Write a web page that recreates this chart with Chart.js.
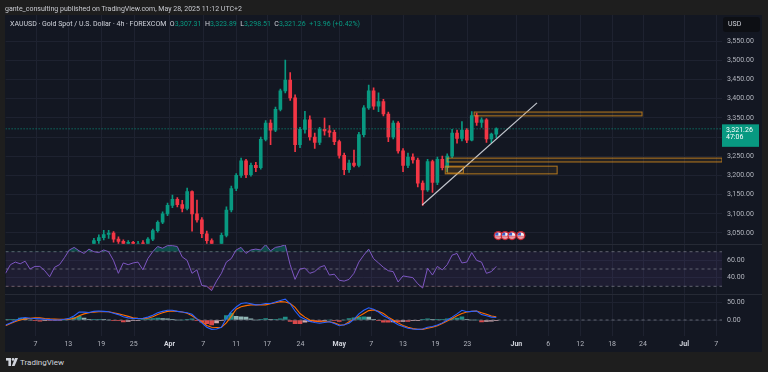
<!DOCTYPE html>
<html>
<head>
<meta charset="utf-8">
<script src="https://cdn.jsdelivr.net/npm/chart.js@4.4.1/dist/chart.umd.min.js"></script>
<style>
  html, body { margin: 0; padding: 0; }
  body { width: 768px; height: 372px; background: #1e1e1e; position: relative; overflow: hidden;
         font-family: Roboto, "Liberation Sans", sans-serif; }
  #panel { position: absolute; left: 5px; top: 15px; width: 757px; height: 337px; background: #131722; }
  canvas { position: absolute; left: 5px; }
  #cPrice { top: 9px; z-index: 1; }
  #cRsi { top: 240px; z-index: 2; }
  #cMacd { top: 290px; z-index: 3; }
  .sep { position: absolute; left: 5px; width: 757px; height: 1px; background: #262a35; z-index: 4; }
  #header { position: absolute; left: 5px; top: 4px; font-size: 7px; line-height: 10px; color: #c9cbd1; z-index: 5; white-space: nowrap; }
  #legend { position: absolute; left: 10px; top: 19px; font-size: 7px; line-height: 10px; color: #d1d4dc; z-index: 5; white-space: nowrap; }
  #legend .v { color: #089981; }
  #usd { position: absolute; left: 723px; top: 17px; width: 37px; height: 15px; box-sizing: border-box; padding-left: 5px;
         background: #0d0f14; border-radius: 3px; font-size: 7px; line-height: 15px; color: #d1d4dc; z-index: 5; }
  #brand { position: absolute; left: 6px; top: 357px; font-size: 8px; line-height: 11px; color: #d1d4dc; z-index: 5; white-space: nowrap; }
  #brand svg { vertical-align: -1px; margin-right: 2px; }
</style>
</head>
<body>
<div id="panel"></div>
<div id="header">gante_consulting published on TradingView.com, May 28, 2025 11:12 UTC+2</div>
<div id="legend">XAUUSD · Gold Spot / U.S. Dollar · 4h · FOREXCOM&nbsp;&nbsp;O<span class="v">3,307.31</span>&nbsp; H<span class="v">3,323.89</span>&nbsp; L<span class="v">3,298.51</span>&nbsp; C<span class="v">3,321.26</span>&nbsp; <span class="v">+13.96 (+0.42%)</span></div>
<div id="usd">USD</div>
<canvas id="cPrice" width="757" height="239"></canvas>
<canvas id="cRsi" width="757" height="58"></canvas>
<canvas id="cMacd" width="757" height="62"></canvas>
<div class="sep" style="top:244px"></div>
<div class="sep" style="top:294px"></div>
<div id="brand"><svg width="12" height="8" viewBox="0 0 12 8"><rect x="0" y="0" width="5" height="2.6" fill="#d1d4dc"/><rect x="2.4" y="0" width="2.6" height="8" fill="#d1d4dc"/><circle cx="7" cy="1.4" r="1.3" fill="#d1d4dc"/><polygon points="9,0 12,0 8.6,8 5.8,8" fill="#d1d4dc"/></svg>TradingView</div>
<script>
// x axis in bar-index units
const xMin = 0, xMax = 146;
const tickPos = [6.1, 12.8, 19.5, 26.1, 33.4, 40.3, 47.0, 53.3, 60.1, 68.0, 74.5, 81.0, 87.6, 94.1, 104.1, 110.6, 117.1, 123.6, 129.9, 138.3, 144.8];
const tickLabels = ['7', '13', '19', '25', 'Apr', '7', '11', '17', '24', 'May', '7', '13', '19', '23', 'Jun', '6', '12', '18', '24', 'Jul', '7'];
const monthLabels = ['Apr', 'May', 'Jun', 'Jul'];

// candles
const opens = [
  2898,2905,2918,2912,2925,2914,2908,2912,2902,2895,
  2910,2920,2935,2948,2982,2988,2978,2995,3002,3030,
  3038,3046,3050,3034,3028,3015,3026,3012,3022,3020,
  3034,3056,3078,3100,3122,3138,3124,3114,3158,3100,
  3084,3048,3030,2985,2975,3044,3110,3166,3200,3238,
  3202,3226,3220,3294,3336,3318,3372,3420,3448,3402,
  3280,3320,3345,3300,3286,3320,3316,3312,3288,3252,
  3215,3232,3226,3306,3376,3420,3380,3392,3360,3300,
  3336,3264,3226,3248,3240,3180,3162,3236,3182,3242,
  3220,3250,3310,3296,3318,3292,3356,3338,3345,3295,
  3307.31];
const highs = [
  2912,2925,2928,2932,2930,2920,2922,2918,2910,2915,
  2928,2940,2955,2988,2995,2992,3000,3008,3036,3045,
  3057,3057,3054,3040,3032,3030,3028,3028,3030,3038,
  3060,3082,3105,3128,3149,3142,3135,3167,3160,3136,
  3090,3055,3035,2995,3050,3118,3172,3205,3245,3242,
  3232,3234,3300,3343,3345,3378,3425,3500,3468,3410,
  3325,3367,3355,3310,3325,3349,3330,3318,3292,3258,
  3240,3266,3312,3382,3435,3428,3415,3398,3365,3342,
  3340,3270,3258,3256,3245,3186,3242,3240,3248,3250,
  3256,3320,3318,3340,3322,3366,3362,3350,3348,3310,
  3323.89];
const lows = [
  2890,2900,2905,2908,2906,2896,2900,2888,2882,2890,
  2904,2915,2930,2945,2975,2970,2974,2985,2998,3022,
  3032,3036,3026,3018,3008,3010,3005,3008,3014,3016,
  3030,3052,3074,3095,3116,3118,3105,3110,3055,3078,
  3038,3022,2970,2957,2970,3040,3105,3160,3195,3194,
  3198,3210,3216,3290,3280,3314,3368,3415,3395,3262,
  3272,3310,3292,3270,3280,3305,3300,3280,3245,3202,
  3208,3222,3222,3300,3372,3372,3366,3355,3288,3295,
  3258,3210,3220,3232,3170,3122,3158,3156,3176,3214,
  3210,3246,3284,3290,3285,3290,3330,3325,3286,3285,
  3298.51];
const closes = [
  2905,2918,2912,2925,2914,2908,2912,2902,2895,2910,
  2920,2935,2948,2982,2988,2978,2995,3002,3030,3038,
  3046,3050,3034,3028,3015,3026,3012,3022,3020,3034,
  3056,3078,3100,3122,3138,3124,3114,3158,3100,3084,
  3048,3030,2985,2975,3044,3110,3166,3200,3238,3202,
  3226,3220,3294,3336,3318,3372,3420,3448,3402,3280,
  3320,3345,3300,3286,3320,3316,3312,3288,3252,3215,
  3232,3226,3306,3376,3420,3380,3392,3360,3300,3336,
  3264,3226,3248,3240,3180,3162,3236,3182,3242,3220,
  3250,3310,3296,3318,3292,3356,3338,3345,3295,3307.31,
  3321.26];
const priceTicks = [3050, 3100, 3150, 3200, 3250, 3300, 3350, 3400, 3450, 3500, 3550];
const countdown = '47:06';

// RSI (14)
const rsi = [
  45,55,58,56,59,50,53,53,48,41,
  52,55,63,72,75,71,68,73,70,69,
  72,70,60,45,57,55,57,58,49,62,
  70,76,74,77,77,76,64,60,45,49,
  31,30,25,36,45,58,62,72,75,68,
  72,73,72,78,71,75,76,78,55,38,
  50,51,45,47,52,54,43,44,37,36,
  38,45,58,66,73,62,57,52,48,47,
  35,42,41,40,33,28,51,43,53,49,
  55,66,68,57,58,69,60,58,45,47,
  53];
const rsiTicks = [60, 40];
const rsiLevels = [70, 50, 30];

// MACD
const macd = [
  -14,-8,-2,5,7,5,4,3,2,1,
  0,0,2,5,12,22,22,21,24,25,
  24,23,19,15,9,6,4,4,5,8,
  13,20,24,27,27,24,22,20,16,3,
  -8,-20,-26,-25,-20,5,23,36,46,48,
  45,42,43,46,46,50,54,58,45,25,
  9,2,-4,-7,-9,-7,-5,-10,-16,-13,
  -9,2,17,27,34,30,22,12,5,-5,
  -13,-18,-23,-25,-26,-25,-20,-18,-14,-8,
  0,8,17,27,23,24,25,15,12,8,
  7];
const signal = [
  -16,-10,-4,0,3,5,6,6,4,3,
  2.5,2,2,2,5,12,17,20,22,23,
  23,23,20,17,14,10,6,4.6,4,5,
  9,15,20,24,25,24,22,19,12,3,
  -5,-15,-20,-21,-20,-8,10,30,37,40,
  42,42,42,42,45,48,51,50,46,35,
  18,8,0,-3,-5,-5,-5,-8,-13,-14,
  -5,2,10,18,26,28,24,18,8,0,
  -8,-15,-20,-24,-26,-26,-23,-20,-16,-10,
  -3,4,12,18,22,24,25,20,16,11,
  9];
const hist = [
  2,2,2,5,4,0,-2,-3,-2,-2,
  -2,-2,0,3,7,10,5,1,2,2,
  1,0,-1,-2,-5,-4,-2,-1,1,3,
  4,5,4,3,2,0,0,1,3,-2,
  -6,-10,-14,-8,-2,12,19,10,9,8,
  3,0,1,4,2,2,3,8,-4,-10,
  -10,-6,-4,-4,-4,-2,0,-2,-4,0,
  4,6,8,9,8,2,-2,-6,-6,-5,
  -5,-4,-4,-2,-1,1,3,2,2,2,
  3,4,5,9,2,0,0,-5,-4,-3,
  -2];
const macdTicks = [50, 0];

// drawings on the price pane (bar index / price units)
const zoneStart = [95.5, 90, 89.6, 90];
const zoneEnd = [129.7, 146, 112.4, 93.3];
const zoneHigh = [3365, 3245, 3224, 3222];
const zoneLow = [3355, 3235, 3204, 3206];
const trendX = [84.9, 108.3];
const trendY = [3123, 3389];
const eventX = [100.4, 101.8, 103.2, 105.0];

const idx = closes.map((c, i) => i);
const last = closes[closes.length - 1];
const UP = '#089981', DOWN = '#f23645';
const GRID = '#1e2230';

Chart.defaults.font.family = 'Roboto, "Liberation Sans", sans-serif';
Chart.defaults.font.size = 7;
Chart.defaults.color = '#b2b5be';

const fmtPrice = v => v.toLocaleString('en-US', { minimumFractionDigits: 2, maximumFractionDigits: 2 });
const fmt2 = v => v.toFixed(2);
const candleColor = c => closes[c.dataIndex] >= opens[c.dataIndex] ? UP : DOWN;

function xScale(showLabels) {
  const s = {
    type: 'linear', min: xMin, max: xMax, offset: false, display: showLabels,
    grid: { display: false, drawTicks: false }, border: { display: false },
    afterBuildTicks: sc => { sc.ticks = tickPos.map(v => ({ value: v })); },
    ticks: {
      autoSkip: false, maxRotation: 0, minRotation: 0, padding: 4,
      color: c => monthLabels.includes(tickLabels[c.index]) ? '#d1d4dc' : '#b2b5be',
      font: c => ({ size: 7, weight: monthLabels.includes(tickLabels[c.index]) ? 'bold' : 'normal' }),
      callback: (v, i) => tickLabels[i]
    }
  };
  if (showLabels) s.afterFit = sc => { sc.height = 16; };
  return s;
}

function yScale(ticks, fmt) {
  return {
    position: 'right',
    afterBuildTicks: s => { s.ticks = ticks.map(v => ({ value: v })); },
    afterFit: s => { s.width = 40; },
    grid: { color: GRID, drawTicks: true, tickLength: 5, tickColor: 'rgba(0,0,0,0)' },
    border: { display: false },
    ticks: { padding: 0, color: '#b2b5be', callback: v => fmt(v) }
  };
}

// vertical grid lines at the date ticks
const vGrid = {
  id: 'vGrid',
  beforeDatasetsDraw(chart, args, opts) {
    const { ctx, chartArea } = chart;
    const x = chart.scales.x;
    const top = opts.top !== undefined ? opts.top : chartArea.top;
    ctx.save();
    ctx.strokeStyle = GRID;
    ctx.lineWidth = 1;
    tickPos.forEach(v => {
      const px = Math.round(x.getPixelForValue(v)) + 0.5;
      ctx.beginPath();
      ctx.moveTo(px, top);
      ctx.lineTo(px, chartArea.bottom);
      ctx.stroke();
    });
    ctx.restore();
  }
};

const zones = {
  id: 'zones',
  afterDatasetsDraw(chart) {
    const { ctx, chartArea } = chart;
    const x = chart.scales.x, y = chart.scales.y;
    ctx.save();
    ctx.beginPath();
    ctx.rect(chartArea.left, chartArea.top, chartArea.right - chartArea.left, chartArea.bottom - chartArea.top);
    ctx.clip();
    zoneStart.forEach((s, k) => {
      const x0 = x.getPixelForValue(s), x1 = x.getPixelForValue(zoneEnd[k]);
      const y0 = y.getPixelForValue(zoneHigh[k]), y1 = y.getPixelForValue(zoneLow[k]);
      ctx.fillStyle = 'rgba(255,167,38,0.07)';
      ctx.fillRect(x0, y0, x1 - x0, y1 - y0);
      ctx.strokeStyle = 'rgba(230,150,30,0.7)';
      ctx.lineWidth = 1.1;
      ctx.strokeRect(x0, y0, x1 - x0, y1 - y0);
    });
    ctx.restore();
  }
};

const events = {
  id: 'events',
  afterDatasetsDraw(chart) {
    const { ctx } = chart;
    const x = chart.scales.x;
    const cy = 235.6 - 9;
    eventX.forEach(v => {
      const px = x.getPixelForValue(v);
      ctx.save();
      ctx.beginPath(); ctx.arc(px, cy, 4.6, 0, Math.PI * 2); ctx.fillStyle = '#c62836'; ctx.fill();
      ctx.beginPath(); ctx.arc(px, cy, 3.2, 0, Math.PI * 2); ctx.fillStyle = '#f2f2f4'; ctx.fill(); ctx.clip();
      ctx.fillStyle = '#e04352';
      ctx.fillRect(px - 3.2, cy + 0.2, 6.4, 0.9);
      ctx.fillRect(px - 3.2, cy + 1.9, 6.4, 0.9);
      ctx.fillStyle = '#3d5fc8';
      ctx.fillRect(px - 3.2, cy - 3.2, 3.3, 3.1);
      ctx.restore();
    });
  }
};

const priceTag = {
  id: 'priceTag',
  afterDraw(chart) {
    const { ctx, chartArea } = chart;
    const py = chart.scales.y.getPixelForValue(last);
    ctx.save();
    ctx.fillStyle = UP;
    ctx.fillRect(chartArea.right, py - 4.5, 37, 22.5);
    ctx.fillStyle = '#ffffff';
    ctx.font = '7px Roboto, "Liberation Sans", sans-serif';
    ctx.textBaseline = 'middle';
    ctx.fillText(fmtPrice(last), chartArea.right + 4, py + 1.3);
    ctx.fillText(countdown, chartArea.right + 4, py + 8.2);
    ctx.restore();
  }
};

const common = {
  responsive: false, animation: false, events: [],
  layout: { padding: 0 },
  plugins: { legend: { display: false }, tooltip: { enabled: false } }
};

const priceChart = new Chart(document.getElementById('cPrice'), {
  type: 'bar',
  data: {
    datasets: [
      { type: 'line', data: trendX.map((v, k) => ({ x: v, y: trendY[k] })), borderColor: 'rgba(215,218,225,0.9)', borderWidth: 1.2, pointRadius: 0 },
      { type: 'line', data: [{ x: xMin, y: last }, { x: xMax, y: last }], borderColor: UP, borderWidth: 1, borderDash: [1, 2], pointRadius: 0 },
      { data: idx.map(i => ({ x: i, y: [opens[i], closes[i]] })), backgroundColor: candleColor, barThickness: 3, grouped: false, minBarLength: 1 },
      { data: idx.map(i => ({ x: i, y: [lows[i], highs[i]] })), backgroundColor: candleColor, barThickness: 1, grouped: false }
    ]
  },
  options: Object.assign({}, common, {
    scales: { x: xScale(false), y: Object.assign(yScale(priceTicks, fmtPrice), { min: 3020, max: 3620 }) },
    plugins: Object.assign({}, common.plugins, { vGrid: { top: 6 } })
  }),
  plugins: [vGrid, zones, events, priceTag]
});

const rsiPts = idx.map(i => ({ x: i, y: rsi[i] }));
const rsiChart = new Chart(document.getElementById('cRsi'), {
  type: 'line',
  data: {
    datasets: [
      { data: rsiPts, borderColor: '#7e57c2', borderWidth: 1, pointRadius: 0,
        fill: { target: { value: rsiLevels[0] }, above: 'rgba(8,153,129,0.4)', below: 'rgba(0,0,0,0)' } },
      { data: rsiPts, borderColor: 'rgba(0,0,0,0)', borderWidth: 0, pointRadius: 0,
        fill: { target: { value: rsiLevels[2] }, above: 'rgba(0,0,0,0)', below: 'rgba(242,54,69,0.35)' } },
      ...rsiLevels.map(v => ({ data: [{ x: xMin, y: v }, { x: xMax, y: v }], borderColor: 'rgba(120,123,134,0.75)', borderWidth: 1, borderDash: [3, 3], pointRadius: 0 })),
      { data: [{ x: xMin, y: rsiLevels[0] }, { x: xMax, y: rsiLevels[0] }], borderWidth: 0, pointRadius: 0,
        fill: { target: { value: rsiLevels[2] } }, backgroundColor: 'rgba(126,87,194,0.1)' }
    ]
  },
  options: Object.assign({}, common, {
    scales: { x: xScale(false), y: Object.assign(yScale(rsiTicks, fmt2), { min: 20, max: 80 }) }
  }),
  plugins: [vGrid]
});

const histColor = c => {
  const i = c.dataIndex, v = hist[i], p = i ? hist[i - 1] : v;
  if (v >= 0) return v >= p ? 'rgba(38,166,154,0.85)' : 'rgba(178,223,219,0.8)';
  return v > p ? 'rgba(255,205,210,0.8)' : 'rgba(255,82,82,0.85)';
};

const macdChart = new Chart(document.getElementById('cMacd'), {
  type: 'bar',
  data: {
    datasets: [
      { type: 'line', data: idx.map(i => ({ x: i, y: macd[i] })), borderColor: '#2962ff', borderWidth: 1.1, pointRadius: 0 },
      { type: 'line', data: idx.map(i => ({ x: i, y: signal[i] })), borderColor: '#ff6d00', borderWidth: 1.1, pointRadius: 0 },
      { type: 'line', data: [{ x: xMin, y: 0 }, { x: xMax, y: 0 }], borderColor: 'rgba(120,123,134,0.75)', borderWidth: 1, borderDash: [3, 3], pointRadius: 0 },
      { data: idx.map(i => ({ x: i, y: hist[i] })), backgroundColor: histColor, barThickness: 4, grouped: false }
    ]
  },
  options: Object.assign({}, common, {
    scales: { x: xScale(true), y: Object.assign(yScale(macdTicks, fmt2), { min: -40, max: 70 }) }
  }),
  plugins: [vGrid]
});

// line each pane's value scale up with the screenshot's pixel rows
function pin(chart, canvasTop, v1, y1, v2, y2) {
  const a = chart.chartArea;
  const k = (y2 - y1) / (v1 - v2);
  const y = chart.options.scales.y;
  y.max = v1 + (y1 - (canvasTop + a.top)) / k;
  y.min = v1 - ((canvasTop + a.bottom) - y1) / k;
  chart.update('none');
}
pin(priceChart, 9, 3550, 41, 3050, 233);
pin(rsiChart, 240, 50, 269, 70, 251.7);
pin(macdChart, 290, 0, 320, 50, 302);
</script>
</body>
</html>
